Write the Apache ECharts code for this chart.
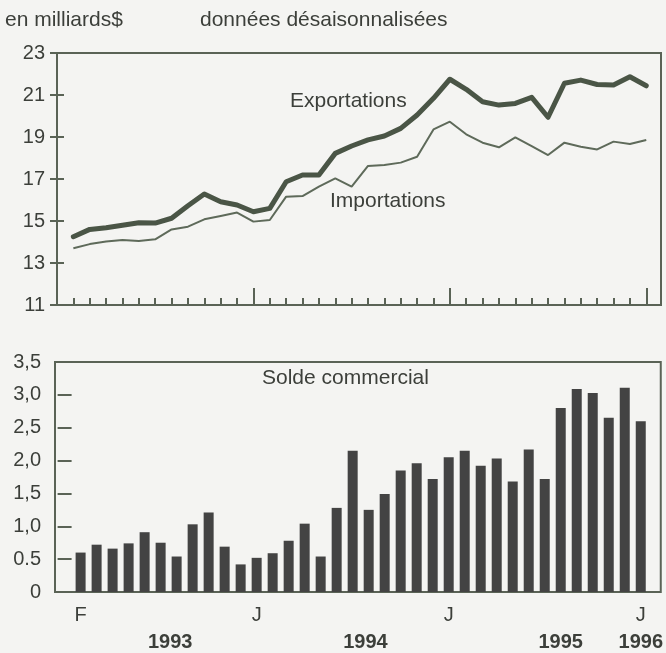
<!DOCTYPE html>
<html>
<head>
<meta charset="utf-8">
<script src="https://cdn.jsdelivr.net/npm/echarts@6/dist/echarts.min.js"></script>
<style>
  html, body { margin: 0; padding: 0; background: #f4f4f2; }
  #main { width: 666px; height: 653px; }
</style>
</head>
<body>
<div id="main"></div>
<script>
// mois : février 1993 à janvier 1996
var months = [
  '1993-02', '1993-03', '1993-04', '1993-05', '1993-06', '1993-07', '1993-08', '1993-09', '1993-10', '1993-11', '1993-12',
  '1994-01', '1994-02', '1994-03', '1994-04', '1994-05', '1994-06', '1994-07', '1994-08', '1994-09', '1994-10', '1994-11', '1994-12',
  '1995-01', '1995-02', '1995-03', '1995-04', '1995-05', '1995-06', '1995-07', '1995-08', '1995-09', '1995-10', '1995-11', '1995-12',
  '1996-01'
];
var exportations = [
  14.25, 14.6, 14.68, 14.8, 14.92, 14.9, 15.13, 15.73, 16.29, 15.92, 15.76,
  15.44, 15.6, 16.87, 17.19, 17.19, 18.22, 18.57, 18.86, 19.05, 19.41, 20.05, 20.84,
  21.75, 21.27, 20.68, 20.52, 20.6, 20.89, 19.94, 21.56, 21.71, 21.5, 21.48, 21.87,
  21.44
];
var importations = [
  13.7, 13.9, 14.02, 14.1, 14.05, 14.13, 14.6, 14.73, 15.08, 15.24, 15.4,
  14.97, 15.05, 16.16, 16.19, 16.64, 17.03, 16.64, 17.62, 17.67, 17.78, 18.06, 19.36,
  19.73, 19.13, 18.73, 18.51, 18.98, 18.57, 18.14, 18.73, 18.54, 18.41, 18.78, 18.67,
  18.86
];
var solde = [
  0.60, 0.72, 0.66, 0.74, 0.91, 0.75, 0.54, 1.03, 1.21, 0.69, 0.42,
  0.52, 0.59, 0.78, 1.04, 0.54, 1.28, 2.15, 1.25, 1.49, 1.85, 1.96, 1.72,
  2.05, 2.15, 1.92, 2.03, 1.68, 2.17, 1.72, 2.80, 3.09, 3.03, 2.65, 3.11,
  2.60
];
var monthLabels = ['F', 'J', 'J', 'J'];
var monthLabelIdx = [1, 12, 24, 36];
var years = ['1993', '1994', '1995', '1996'];
var yearLabelIdx = [6.6, 18.8, 31, 36];
var soldeTickLabels = ['0', '0.5', '1,0', '1,5', '2,0', '2,5', '3,0', '3,5'];

var FONT = '"Liberation Sans", Arial, sans-serif';
var INK = '#3c3f3a';
var FRAME = '#5a6356';

function pairs(values) {
  return values.map(function (v, i) { return [i + 1, v]; });
}

// petites graduations mensuelles, les grandes sont en janvier
var smallTicks = [];
for (var k = 1; k <= months.length; k++) {
  if (months[k - 1].slice(5) !== '01') smallTicks.push(k);
}
var janTicks = [];
for (var m = 1; m <= months.length; m++) {
  if (months[m - 1].slice(5) === '01') janTicks.push(m);
}

var chart = echarts.init(document.getElementById('main'), null, { renderer: 'canvas' });

var option = {
  backgroundColor: '#f4f4f2',
  animation: false,
  textStyle: { fontFamily: FONT, color: INK },
  graphic: [
    { type: 'text', left: 5, top: 10, style: { text: 'en milliards$', font: '21px ' + FONT, fill: INK } },
    { type: 'text', left: 200, top: 10, style: { text: 'données désaisonnalisées', font: '21px ' + FONT, fill: INK } },
    { type: 'text', left: 290, top: 91, style: { text: 'Exportations', font: '21px ' + FONT, fill: INK } },
    { type: 'text', left: 330, top: 191, style: { text: 'Importations', font: '21px ' + FONT, fill: INK } },
    { type: 'text', left: 262, top: 368, style: { text: 'Solde commercial', font: '21px ' + FONT, fill: INK } }
  ],
  grid: [
    { left: 57, right: 5, top: 53, bottom: 348, show: true, borderColor: FRAME, borderWidth: 2, backgroundColor: 'transparent' },
    { left: 55, right: 5, top: 362, bottom: 61, show: true, borderColor: FRAME, borderWidth: 2, backgroundColor: 'transparent' }
  ],
  xAxis: [
    {
      type: 'value', gridIndex: 0, position: 'bottom', min: 0, max: 36.9,
      axisLine: { show: false }, splitLine: { show: false }, axisLabel: { show: false },
      axisTick: { show: true, inside: true, length: 7, customValues: smallTicks, lineStyle: { color: FRAME, width: 2 } }
    },
    {
      type: 'value', gridIndex: 0, position: 'bottom', min: 0, max: 36.9,
      axisLine: { show: false }, splitLine: { show: false }, axisLabel: { show: false },
      axisTick: { show: true, inside: true, length: 17, customValues: janTicks, lineStyle: { color: FRAME, width: 2 } }
    },
    {
      type: 'value', gridIndex: 1, position: 'bottom', min: -0.6, max: 37.25,
      axisLine: { show: false }, splitLine: { show: false }, axisTick: { show: false },
      axisLabel: {
        show: true, margin: 13, fontSize: 20, color: INK, fontFamily: FONT,
        customValues: monthLabelIdx,
        formatter: function (v) {
          var j = monthLabelIdx.indexOf(v);
          return j >= 0 ? monthLabels[j] : '';
        }
      }
    },
    {
      type: 'value', gridIndex: 1, position: 'bottom', min: -0.6, max: 37.25,
      axisLine: { show: false }, splitLine: { show: false }, axisTick: { show: false },
      axisLabel: {
        show: true, margin: 40, fontSize: 20, fontWeight: 'bold', color: INK, fontFamily: FONT,
        customValues: yearLabelIdx,
        formatter: function (v) {
          var j = yearLabelIdx.indexOf(v);
          return j >= 0 ? years[j] : '';
        }
      }
    }
  ],
  yAxis: [
    {
      type: 'value', gridIndex: 0, min: 11, max: 23, interval: 2, position: 'left',
      axisLine: { show: false }, splitLine: { show: false },
      axisTick: { show: true, inside: true, length: 7, lineStyle: { color: FRAME, width: 2 } },
      axisLabel: { margin: 12, fontSize: 20, color: INK, fontFamily: FONT }
    },
    {
      type: 'value', gridIndex: 0, min: 11, max: 23, interval: 2, position: 'right',
      axisLine: { show: false }, splitLine: { show: false }, axisLabel: { show: false },
      axisTick: { show: true, inside: true, length: 7, lineStyle: { color: FRAME, width: 2 } }
    },
    {
      type: 'value', gridIndex: 1, min: 0, max: 3.5, interval: 0.5, position: 'left',
      axisLine: { show: false }, splitLine: { show: false },
      axisTick: { show: true, inside: true, length: 7, lineStyle: { color: FRAME, width: 2 } },
      axisLabel: {
        margin: 14, fontSize: 20, color: INK, fontFamily: FONT,
        formatter: function (v) { return soldeTickLabels[Math.round(v / 0.5)]; }
      }
    },
    {
      type: 'value', gridIndex: 1, min: 0, max: 3.5, interval: 0.5, position: 'right',
      axisLine: { show: false }, splitLine: { show: false }, axisLabel: { show: false },
      axisTick: { show: true, inside: true, length: 7, lineStyle: { color: FRAME, width: 2 } }
    }
  ],
  series: [
    {
      name: 'Importations', type: 'line', xAxisIndex: 0, yAxisIndex: 0,
      data: pairs(importations), symbol: 'none',
      lineStyle: { color: '#5e6a5a', width: 2 }
    },
    {
      name: 'Exportations', type: 'line', xAxisIndex: 0, yAxisIndex: 0,
      data: pairs(exportations), symbol: 'none',
      lineStyle: { color: '#4a5546', width: 5, join: 'round', cap: 'round' }
    },
    {
      name: 'Solde commercial', type: 'bar', xAxisIndex: 2, yAxisIndex: 2,
      data: pairs(solde), barWidth: 10,
      itemStyle: { color: '#434343' }
    }
  ]
};

chart.setOption(option);
</script>
</body>
</html>
